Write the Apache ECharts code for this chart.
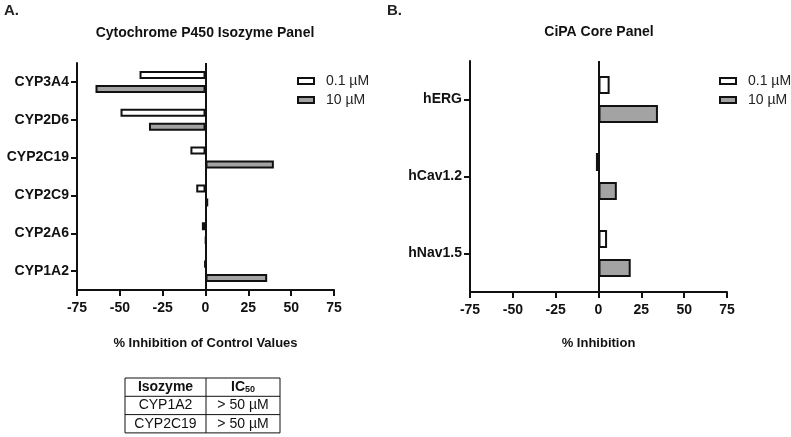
<!DOCTYPE html>
<html>
<head>
<meta charset="utf-8">
<script src="https://cdn.jsdelivr.net/npm/echarts@6/dist/echarts.min.js"></script>
<style>
html,body{margin:0;padding:0;background:#fff;}
#c{width:791px;height:437px;}
</style>
</head>
<body>
<div id="c"></div>
<script>
// ---- data ----
var seriesNames = ['0.1 µM', '10 µM'];
var cypCategories = ['CYP3A4', 'CYP2D6', 'CYP2C19', 'CYP2C9', 'CYP2A6', 'CYP1A2'];
var cypLow  = [-38.5, -49.6, -8.8, -5.4, -2.1, -0.5];
var cypHigh = [-64.2, -33.0, 39.9, 1.6, 0.2, 36.0];
var cipaCategories = ['hERG', 'hCav1.2', 'hNav1.5'];
var cipaLow  = [6.5, -1.5, 5.0];
var cipaHigh = [34.7, 10.7, 18.8];
var xTicks = { min: -75, max: 75, interval: 25 };
var tableRows = [['CYP1A2', '> 50 µM'], ['CYP2C19', '> 50 µM']];

var FONT = '"Liberation Sans", Arial, Helvetica, sans-serif';
var WHITE = '#ffffff', GREY = '#a3a3a3', BLACK = '#111111';

function valueAxis(gridIndex, name, gap) {
  return {
    type: 'value', gridIndex: gridIndex,
    min: xTicks.min, max: xTicks.max, interval: xTicks.interval,
    name: name, nameLocation: 'middle', nameGap: gap,
    nameTextStyle: { fontFamily: FONT, fontWeight: 'bold', fontSize: 13, color: BLACK },
    axisLine: { show: true, onZero: false, lineStyle: { color: BLACK, width: 2 } },
    axisTick: { show: true, length: 6, lineStyle: { color: BLACK, width: 2 } },
    axisLabel: { fontFamily: FONT, fontWeight: 'bold', fontSize: 14, color: BLACK, margin: 11 },
    splitLine: { show: false }
  };
}
function catAxis(gridIndex, cats) {
  return {
    type: 'category', gridIndex: gridIndex, data: cats, inverse: true,
    axisLine: { show: true, onZero: false, lineStyle: { color: BLACK, width: 2 } },
    axisTick: { show: true, alignWithLabel: true, length: 6, lineStyle: { color: BLACK, width: 2 } },
    axisLabel: { fontFamily: FONT, fontWeight: 'bold', fontSize: 14, color: BLACK, margin: 8 }
  };
}
function zeroLine() {
  return {
    symbol: 'none', silent: true, animation: false,
    label: { show: false },
    lineStyle: { color: BLACK, width: 2, type: 'solid' },
    data: [{ xAxis: 0 }]
  };
}
function barSeries(name, data, gi, color, bw, gap, withZero) {
  var s = {
    name: name, type: 'bar', xAxisIndex: gi, yAxisIndex: gi, data: data,
    barWidth: bw, barGap: gap,
    itemStyle: { color: color, borderColor: BLACK, borderWidth: 2 },
    animation: false
  };
  if (withZero) s.markLine = zeroLine();
  return s;
}
function legendAt(left, top) {
  return {
    orient: 'vertical', left: left, top: top,
    data: seriesNames.map(function (n) { return { name: n, icon: 'rect' }; }),
    itemWidth: 16, itemHeight: 6, itemGap: 5,
    textStyle: { fontFamily: FONT, fontSize: 14, color: '#222', padding: [0, 0, 0, 7] },
    selectedMode: false
  };
}

// table graphic
var tbl = { x: 125, y: 378, w: 155, col: 81, rowH: 18.3 };
var tableGraphics = [];
var nRows = tableRows.length + 1;
tableGraphics.push({ type: 'rect', shape: { x: tbl.x, y: tbl.y, width: tbl.w, height: tbl.rowH * nRows },
  style: { fill: 'none', stroke: BLACK, lineWidth: 1 } });
for (var r = 1; r < nRows; r++) {
  tableGraphics.push({ type: 'line', shape: { x1: tbl.x, y1: tbl.y + tbl.rowH * r, x2: tbl.x + tbl.w, y2: tbl.y + tbl.rowH * r },
    style: { stroke: BLACK, lineWidth: 1 } });
}
tableGraphics.push({ type: 'line', shape: { x1: tbl.x + tbl.col, y1: tbl.y, x2: tbl.x + tbl.col, y2: tbl.y + tbl.rowH * nRows },
  style: { stroke: BLACK, lineWidth: 1 } });
var c1 = tbl.x + tbl.col / 2, c2 = tbl.x + tbl.col + (tbl.w - tbl.col) / 2;
tableGraphics.push({ type: 'text', x: c1, y: tbl.y + tbl.rowH / 2,
  style: { text: 'Isozyme', fontFamily: FONT, fontWeight: 'bold', fontSize: 14, fill: BLACK, align: 'center', verticalAlign: 'middle' } });
tableGraphics.push({ type: 'text', x: c2, y: tbl.y + tbl.rowH / 2,
  style: { text: '{a|IC}{b|50}', align: 'center', verticalAlign: 'middle',
    rich: { a: { fontFamily: FONT, fontWeight: 'bold', fontSize: 14, fill: BLACK, color: BLACK },
            b: { fontFamily: FONT, fontWeight: 'bold', fontSize: 9, fill: BLACK, color: BLACK, padding: [5, 0, 0, 0] } } } });
tableRows.forEach(function (row, i) {
  var yy = tbl.y + tbl.rowH * (i + 1.5);
  tableGraphics.push({ type: 'text', x: c1, y: yy,
    style: { text: row[0], fontFamily: FONT, fontSize: 14, fill: BLACK, align: 'center', verticalAlign: 'middle' } });
  tableGraphics.push({ type: 'text', x: c2, y: yy,
    style: { text: row[1], fontFamily: FONT, fontSize: 14, fill: BLACK, align: 'center', verticalAlign: 'middle' } });
});

var textGraphics = [
  { type: 'text', x: 4, y: 3, style: { text: 'A.', fontFamily: FONT, fontWeight: 'bold', fontSize: 15, fill: '#222' } },
  { type: 'text', x: 387, y: 3, style: { text: 'B.', fontFamily: FONT, fontWeight: 'bold', fontSize: 15, fill: '#222' } },
  { type: 'text', x: 205, y: 33, style: { text: 'Cytochrome P450 Isozyme Panel', fontFamily: FONT, fontWeight: 'bold', fontSize: 14, fill: BLACK, align: 'center', verticalAlign: 'middle' } },
  { type: 'text', x: 599, y: 32, style: { text: 'CiPA Core Panel', fontFamily: FONT, fontWeight: 'bold', fontSize: 14, fill: BLACK, align: 'center', verticalAlign: 'middle' } }
];

var chart = echarts.init(document.getElementById('c'), null, { renderer: 'canvas' });
chart.setOption({
  backgroundColor: '#fff',
  animation: false,
  grid: [
    { left: 77, width: 257, top: 63, height: 227 },
    { left: 470, width: 257, top: 61, height: 231 }
  ],
  xAxis: [valueAxis(0, '% Inhibition of Control Values', 47), valueAxis(1, '% Inhibition', 45)],
  yAxis: [catAxis(0, cypCategories), catAxis(1, cipaCategories)],
  legend: [legendAt(292, 69), legendAt(714, 69)],
  series: [
    barSeries(seriesNames[0], cypLow, 0, WHITE, 8, '75%', true),
    barSeries(seriesNames[1], cypHigh, 0, GREY, 8, '75%', false),
    barSeries(seriesNames[0], cipaLow, 1, WHITE, 18, '61%', true),
    barSeries(seriesNames[1], cipaHigh, 1, GREY, 18, '61%', false)
  ],
  graphic: textGraphics.concat(tableGraphics)
});
</script>
</body>
</html>
